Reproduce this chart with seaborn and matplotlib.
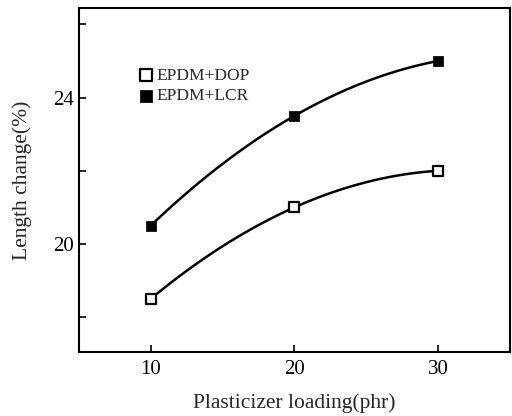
import numpy as np
import pandas as pd
import seaborn as sns
import matplotlib
matplotlib.use("Agg")
import matplotlib.pyplot as plt

# Values
loading = [10, 20, 30]
dop = [18.5, 21.0, 22.0]
lcr = [20.5, 23.5, 25.0]
labels = ["EPDM+DOP", "EPDM+LCR"]

sns.set_theme(style="ticks")
plt.rcParams['font.family'] = ['Liberation Serif', 'DejaVu Serif']

fig = plt.figure(figsize=(5.12, 4.16), dpi=100)
ax = fig.add_axes([0.154, 0.154, 0.842, 0.827])

# smooth curve through the three measured points (quadratic passes exactly)
xs = np.linspace(min(loading), max(loading), 100)
for vals in (dop, lcr):
    coef = np.polyfit(loading, vals, 2)
    sns.lineplot(x=xs, y=np.polyval(coef, xs), ax=ax, color='black', lw=1.8)

df = pd.DataFrame({'loading': loading * 2, 'change': dop + lcr,
                   'series': [labels[0]] * 3 + [labels[1]] * 3})
sns.scatterplot(data=df[df.series == labels[0]], x='loading', y='change', ax=ax,
                marker='s', s=50, facecolor='white', edgecolor='black', linewidth=1.6,
                label=labels[0], zorder=3)
sns.scatterplot(data=df[df.series == labels[1]], x='loading', y='change', ax=ax,
                marker='s', s=45, color='black', edgecolor='black',
                label=labels[1], zorder=3)

ax.set_xlim(5, 35)
ax.set_ylim(17.05, 26.45)
ax.set_xticks([10, 20, 30])
ax.set_yticks([18, 20, 22, 24, 26])
ax.set_yticklabels(['', '20', '', '24', ''])
ax.tick_params(direction='in', length=5, width=1.2, labelsize=15, colors='black')
ax.tick_params(axis='x', pad=6)
for sp in ax.spines.values():
    sp.set_linewidth(1.5)
    sp.set_color('black')

ax.set_xlabel('Plasticizer loading(phr)', fontsize=15.5, labelpad=10)
ax.set_ylabel('Length change(%)', fontsize=15.5, labelpad=15)

leg = ax.legend(loc='upper left', bbox_to_anchor=(0.11, 0.862), frameon=False,
                fontsize=12.5, handletextpad=0.15, borderpad=0.2, labelspacing=0.25,
                handlelength=0.9, markerscale=1.3)

fig.savefig('out.png', dpi=100)
